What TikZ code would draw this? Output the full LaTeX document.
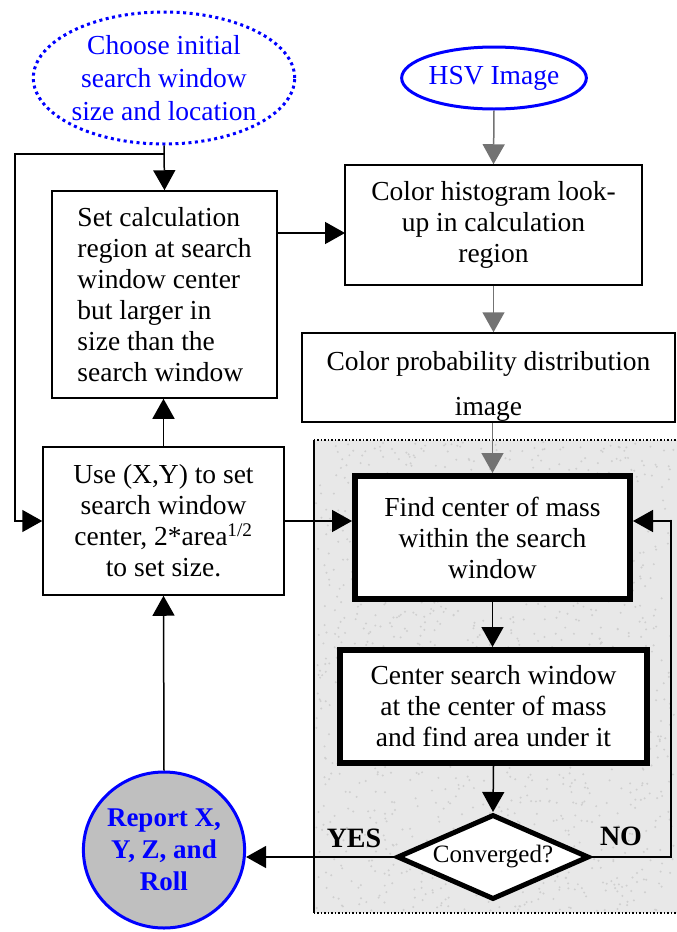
\documentclass[tikz,border=0pt]{standalone}
\usepackage{fontspec}
\setmainfont{Liberation Serif}
\usetikzlibrary{shapes,arrows.meta}

\begin{document}
\begin{tikzpicture}[x=1pt,y=-1pt,
    every node/.style={font=\fontsize{27.5}{31}\selectfont, inner sep=0pt},
    plainbox/.style={draw, line width=1.5pt, fill=white, align=center},
    heavybox/.style={draw, line width=6pt, fill=white, align=center},
    oval/.style={ellipse, draw=blue, text=blue, line width=3pt, align=center},
    arr/.style={line width=1.5pt, -{Triangle[width=22pt,length=20pt]}},
    feed/.style={arr, draw=black!55}]
    \useasboundingbox (0,0) rectangle (677,932);
    % shaded loop area
    \node (area) at (495.5,676.5) [fill=gray!18, minimum width=363, minimum height=473] {};
    \pgfmathsetseed{7}
    \foreach \i in {1,...,1400}{% speckles of the texture
        \fill[gray!38] (316+rnd*358, 442+rnd*469) circle (1.1);
    }
    \draw [dotted, line width=1.5pt] (area.north west) -- (area.north east);
    \draw [dotted, line width=1.5pt] (area.south west) -- (area.south east);
    \draw [line width=1.5pt] (area.north west) -- (area.south west);
    % inputs
    \node[oval, dash pattern=on 3pt off 3.5pt, minimum width=238, minimum height=132, font=\fontsize{27.5}{33}\selectfont] (choose) at (164,78) {Choose initial\\search window\\size and location};
    \node[oval, minimum width=158, minimum height=62] (hsv) at (494,78) {HSV Image};
    % boxes
    \node[plainbox, minimum width=297, minimum height=120] (histo) at (493.5,225) {Color histogram look-\\up in calculation\\region};
    \node[plainbox, align=left, minimum width=225, minimum height=207] (setcalc) at (164.5,294.5) {Set calculation\\region at search\\window center\\but larger in\\size than the\\search window};
    \node[plainbox, minimum width=373, minimum height=89] (prob) at (488.5,377.5) {};
    \node[align=center] (probText) at (488.5,386) {Color probability distribution\\[14pt]image};
    \node[plainbox, minimum width=241, minimum height=148] (use) at (163.5,521) {Use (X,Y) to set\\search window\\center, 2*area\textsuperscript{1/2}\\to set size.};
    \node[heavybox, minimum width=275, minimum height=123] (find) at (492.5,537.5) {Find center of mass\\within the search\\window};
    \node[heavybox, minimum width=307, minimum height=113] (centre) at (493.5,706.5) {Center search window\\at the center of mass\\and find area under it};
    \node[diamond, draw, line width=5pt, fill=white, aspect=2.2, minimum width=192, minimum height=85, font=\fontsize{25}{28}\selectfont] (conv) at (493,857) {Converged?};
    \node[ellipse, draw=blue, fill=gray!50, line width=3pt, text=blue, align=center, minimum width=154, minimum height=156, font=\fontsize{27}{32}\selectfont\bfseries] (report) at (164,850) {Report X,\\Y, Z, and\\Roll};
    \node[font=\fontsize{28}{30}\selectfont\bfseries] (yes) at (354,838) {YES};
    \node[font=\fontsize{28}{30}\selectfont\bfseries] (no) at (621,836) {NO};
    % connectors
    \coordinate (loopTop) at (15,154);
    \coordinate (loopRight) at (671,857);
    \coordinate (histoIn) at (345,233);
    \draw[arr] (choose.south) -- (setcalc.north);
    \draw[arr] (choose.south |- loopTop) -- (loopTop) |- (use.west);
    \draw[feed] (hsv.south) -- (histo.north);
    \draw[arr] (setcalc.east |- histoIn) -- (histoIn);
    \draw[feed] (histo.south) -- (histo.south |- prob.north);
    \draw[feed] (find.north |- prob.south) -- (find.north);
    \draw[arr] (use.north) -- (use.north |- setcalc.south);
    \draw[arr] (use.east) -- (use.east -| find.west);
    \draw[arr] (find.south) -- (find.south |- centre.north);
    \draw[arr] (centre.south) -- (conv.north);
    \draw[arr] (conv.west) -- (conv.west -| report.east);
    \draw[arr] (conv.east) -- (loopRight) |- (find.east |- use.east);
    \draw[arr] (report.north) -- (use.south);
\end{tikzpicture}
\end{document}
